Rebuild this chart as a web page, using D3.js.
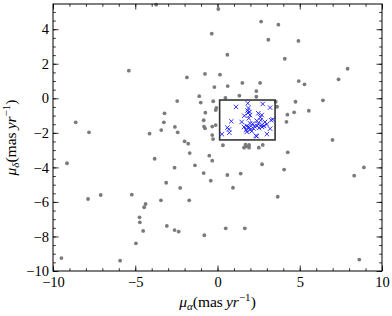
<!DOCTYPE html>
<html>
<head>
<meta charset="utf-8">
<script src="https://cdn.jsdelivr.net/npm/d3@7"></script>
<style>
  body { margin: 0; background: #fff; }
  svg { display: block; }
  text { font-family: "Liberation Serif", "DejaVu Serif", serif; }
</style>
</head>
<body>
<div id="chart"></div>
<script>
// field stars (gray dots), [mu_alpha, mu_delta]
const fieldStars = [
  [-5.39, 1.60], [-8.62, -1.39], [-7.81, -1.97], [-4.13, -2.05], [-3.73, 5.42],
  [0.05, 5.17], [2.65, 4.44], [-0.35, 3.74], [3.09, 3.39], [0.60, 2.52],
  [-1.86, 1.21], [-0.76, 1.41], [0.15, 1.37], [-0.19, 0.65], [0.62, 0.71],
  [1.51, 0.89], [2.59, 0.89], [-1.11, 0.12], [0.48, 0.02], [1.33, 0.15],
  [2.36, 0.42], [2.36, 0.09], [-2.45, -0.16], [-1.02, -0.25], [-0.26, -0.17],
  [-3.22, -0.87], [-0.74, -0.83], [-0.07, -0.56], [-0.11, -0.68], [-3.26, -1.39],
  [-0.84, -1.27], [-2.59, -1.66], [-0.82, -1.64], [-0.76, -1.74], [-0.11, -1.55],
  [-0.32, -1.64], [-2.42, -1.97], [-0.32, -2.13], [-3.42, -1.84],
  [3.70, 4.26], [4.92, 3.32], [4.09, 2.29], [7.91, 1.71], [7.36, 1.10],
  [4.94, 1.00], [5.29, 0.81], [3.54, -0.20], [3.62, -0.49], [4.74, -0.20],
  [6.41, -0.12], [5.55, -0.72], [4.66, -0.81], [4.25, -0.95], [4.19, -1.36],
  [-9.15, -3.76], [-3.82, -3.50], [-7.87, -5.83], [-7.10, -5.60], [-5.21, -5.58],
  [-3.44, -5.91], [-4.37, -6.12], [-4.46, -6.31], [-4.74, -6.89], [-4.72, -7.18],
  [-4.52, -7.68], [-4.96, -8.40], [-9.49, -9.25], [-5.92, -9.40],
  [-2.00, -2.49], [-1.78, -2.63], [-0.27, -2.36], [0.33, -2.72], [1.61, -2.86],
  [1.70, -2.69], [1.92, -2.70], [1.92, -2.86], [1.76, -2.78], [2.51, -2.86],
  [2.75, -2.70], [-1.69, -3.17], [-0.50, -3.32], [-0.32, -3.61], [-2.61, -4.02],
  [-1.37, -3.88], [2.71, -3.82], [-0.84, -4.33], [0.60, -4.44], [1.41, -4.36],
  [-0.41, -4.77], [-3.12, -4.89], [-2.27, -5.19], [0.94, -5.18], [-1.72, -5.91],
  [-3.08, -7.39], [-2.61, -7.63], [-2.36, -7.72], [0.50, -7.53], [1.66, -7.53],
  [-0.80, -7.93],
  [6.99, -2.41], [4.27, -3.13], [4.05, -4.13], [8.90, -4.00], [8.31, -4.48],
  [3.66, -5.70], [8.62, -9.34]
];

// cluster members (blue crosses)
const members = [
  [1.84, -0.29], [2.75, -0.33], [1.13, -0.50], [3.20, -0.54], [1.88, -0.56],
  [1.83, -0.71], [1.95, -0.79], [1.63, -1.01], [1.98, -0.97], [2.48, -0.87],
  [2.69, -0.97], [2.61, -1.10], [3.36, -1.22], [0.84, -1.33], [1.47, -1.37],
  [1.90, -1.16], [1.98, -1.45], [2.39, -1.30], [2.48, -1.49], [2.69, -1.55],
  [3.00, -1.51], [1.78, -1.60], [1.94, -1.70], [2.18, -1.74], [0.60, -1.70],
  [0.70, -1.80], [0.72, -1.99], [0.27, -2.08], [2.33, -2.17], [2.38, -2.20],
  [3.00, -2.07], [1.78, -1.95], [2.08, -1.91], [2.53, -1.72], [2.71, -1.66],
  [2.83, -1.60], [2.14, -1.47], [2.24, -1.62], [1.88, -1.66], [1.98, -1.82],
  [3.20, -1.76], [2.89, -1.37], [3.26, -1.27], [1.86, -0.85], [1.61, -1.66],
  [2.41, -1.60], [2.63, -1.27], [1.74, -1.84]
];

const selBoxX = [0.13, 3.5];
const selBoxY = [-2.41, -0.1];

const xMajor = [-10, -5, 0, 5, 10];
const xMinor = d3.range(-10, 10.01, 1);
const yMajor = [-10, -8, -6, -4, -2, 0, 2, 4];
const yMinor = d3.range(-10, 5.5, 0.5);

const width = 392, height = 316;
const margin = { top: 4, right: 10, bottom: 45, left: 53 };
const innerWidth = width - margin.left - margin.right;
const innerHeight = height - margin.top - margin.bottom;

const svg = d3.select("#chart").append("svg")
  .attr("width", width)
  .attr("height", height);

const chart = svg.append("g")
  .attr("transform", `translate(${margin.left},${margin.top})`);

const x = d3.scaleLinear().domain([-10, 10]).range([0, innerWidth]);
const y = d3.scaleLinear().domain([-10, 5.46]).range([innerHeight, 0]);

// ticks on all four sides, pointing inward
function addAxis(axis, transform, labelled) {
  const g = chart.append("g").attr("transform", transform).call(axis);
  g.attr("font-family", null);
  g.select(".domain").remove();
  g.selectAll("line").attr("stroke", "#000").attr("stroke-width", 0.8);
  if (labelled) {
    g.selectAll("text").attr("font-size", "14.5px").attr("fill", "#000");
  } else {
    g.selectAll("text").remove();
  }
  return g;
}

addAxis(d3.axisBottom(x).tickValues(xMinor).tickSize(-2.8), `translate(0,${innerHeight})`, false);
addAxis(d3.axisBottom(x).tickValues(xMajor).tickSize(-5.5).tickPadding(6), `translate(0,${innerHeight})`, true);
addAxis(d3.axisTop(x).tickValues(xMinor).tickSize(-2.8), "translate(0,0)", false);
addAxis(d3.axisTop(x).tickValues(xMajor).tickSize(-5.5), "translate(0,0)", false);

addAxis(d3.axisLeft(y).tickValues(yMinor).tickSize(-2.8), "translate(0,0)", false);
addAxis(d3.axisLeft(y).tickValues(yMajor).tickSize(-5.5).tickPadding(4), "translate(0,0)", true);
addAxis(d3.axisRight(y).tickValues(yMinor).tickSize(-2.8), `translate(${innerWidth},0)`, false);
addAxis(d3.axisRight(y).tickValues(yMajor).tickSize(-5.5), `translate(${innerWidth},0)`, false);

// field stars
chart.selectAll("circle.field")
  .data(fieldStars)
  .enter()
  .append("circle")
  .attr("class", "field")
  .attr("cx", (d) => x(d[0]))
  .attr("cy", (d) => y(d[1]))
  .attr("r", 1.9)
  .attr("fill", "#7a7a7a");

// selection box
chart.append("rect")
  .attr("x", x(selBoxX[0]))
  .attr("y", y(selBoxY[1]))
  .attr("width", x(selBoxX[1]) - x(selBoxX[0]))
  .attr("height", y(selBoxY[0]) - y(selBoxY[1]))
  .attr("fill", "none")
  .attr("stroke", "#333")
  .attr("stroke-width", 1.6);

// members as crosses
const s = 2.2;
chart.selectAll("path.member")
  .data(members)
  .enter()
  .append("path")
  .attr("class", "member")
  .attr("d", (d) => {
    const cx = x(d[0]), cy = y(d[1]);
    return `M${cx - s},${cy - s}L${cx + s},${cy + s}M${cx - s},${cy + s}L${cx + s},${cy - s}`;
  })
  .attr("stroke", "#1a1aff")
  .attr("stroke-width", 0.9)
  .attr("fill", "none");

// frame
chart.append("rect")
  .attr("width", innerWidth)
  .attr("height", innerHeight)
  .attr("fill", "none")
  .attr("stroke", "#000")
  .attr("stroke-width", 1);

// axis labels
const xLabel = chart.append("text")
  .attr("x", innerWidth / 2)
  .attr("y", innerHeight + 36)
  .attr("text-anchor", "middle")
  .attr("font-size", "15.5px");
xLabel.append("tspan").attr("font-style", "italic").text("μ");
xLabel.append("tspan").attr("font-style", "italic").attr("font-size", "11px").attr("dy", 3).text("α");
xLabel.append("tspan").attr("dy", -3).text("(mas\u2009");
xLabel.append("tspan").attr("font-style", "italic").text("yr");
xLabel.append("tspan").attr("font-size", "11px").attr("dy", -6).text("−1");
xLabel.append("tspan").attr("dy", 6).text(")");

const yLabel = chart.append("text")
  .attr("transform", `translate(${-37},${innerHeight / 2}) rotate(-90)`)
  .attr("text-anchor", "middle")
  .attr("font-size", "15.5px");
yLabel.append("tspan").attr("font-style", "italic").text("μ");
yLabel.append("tspan").attr("font-style", "italic").attr("font-size", "11px").attr("dy", 3).text("δ");
yLabel.append("tspan").attr("dy", -3).text("(mas\u2009");
yLabel.append("tspan").attr("font-style", "italic").text("yr");
yLabel.append("tspan").attr("font-size", "11px").attr("dy", -6).text("−1");
yLabel.append("tspan").attr("dy", 6).text(")");
</script>
</body>
</html>
